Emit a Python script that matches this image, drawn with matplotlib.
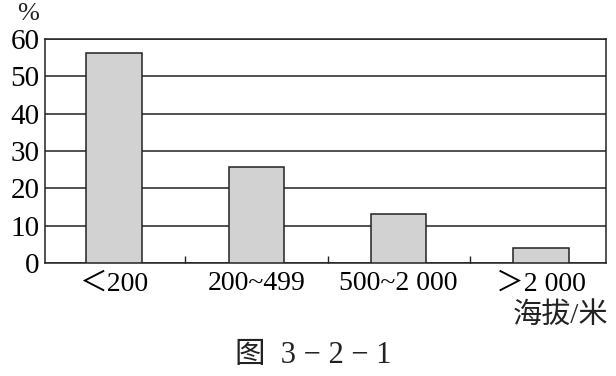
import matplotlib
matplotlib.use('Agg')
import matplotlib.pyplot as plt

# altitude groups and share of area (%)
categories = ['＜200', '200~499', '500~2 000', '＞2 000']
shares = [56.2, 25.8, 13.1, 4.0]
yticks = [0, 10, 20, 30, 40, 50, 60]

fonts = ['Liberation Serif', 'Noto Sans CJK SC', 'DejaVu Sans']
plt.rcParams['font.family'] = fonts

fig = plt.figure(figsize=(6.16, 3.76), dpi=100)
ax = fig.add_axes([0.0731, 0.3005, 0.9107, 0.5957])

x = list(range(len(categories)))
ax.bar(x, shares, width=0.39, color='#d2d2d2', edgecolor='#222222', linewidth=1.1, zorder=3)

ax.set_xlim(-0.484, 3.456)
ax.set_ylim(0, 60)
ax.set_yticks(yticks)
ax.set_yticklabels([str(v) for v in yticks], fontsize=21)
ax.yaxis.grid(True, color='#222222', linewidth=1.1, zorder=0)
ax.tick_params(axis='y', length=0, pad=4)

ax.set_xticks(x)
ax.set_xticklabels(categories, fontsize=20)
ax.tick_params(axis='x', length=0, pad=6)
# small inward ticks between the groups
ax.set_xticks([0.5, 1.5, 2.5], minor=True)
ax.tick_params(axis='x', which='minor', direction='in', length=5, width=1, color='#222222')

for s in ax.spines.values():
    s.set_linewidth(1.1)
    s.set_color('#222222')

fig.text(0.045, 0.962, '%', fontsize=19, ha='center', va='center', color='#222222')
fig.text(0.988, 0.16, '海拔/米', fontsize=21, ha='right', va='center', color='#222222')
fig.text(0.508, 0.055, '图  3 − 2 − 1', fontsize=22, ha='center', va='center', color='#222222')

fig.savefig('out.png', dpi=100)
